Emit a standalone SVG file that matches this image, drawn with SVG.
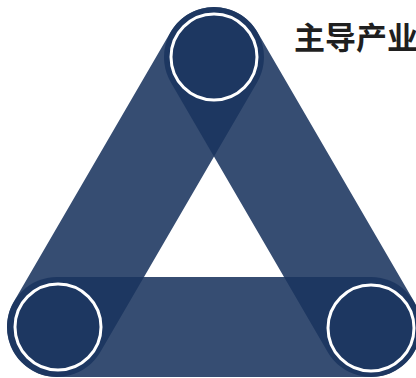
<svg xmlns="http://www.w3.org/2000/svg" width="416" height="378" viewBox="0 0 416 378">
  <style>
    .band { fill: none; stroke: #1a345e; stroke-opacity: 0.88; stroke-width: 100; stroke-linecap: round; }
    .ring { fill: none; stroke: #ffffff; stroke-width: 3; }
    .title { font-family: "Noto Sans CJK SC", "Noto Sans", sans-serif; font-weight: bold; font-size: 31px; fill: #1f1f1f; }
  </style>
  <rect width="416" height="378" fill="#ffffff"/>
  <g id="connectors">
    <line class="band" x1="214" y1="57" x2="57" y2="327"/>
    <line class="band" x1="214" y1="57" x2="371" y2="327"/>
    <line class="band" x1="57" y1="327" x2="371" y2="327"/>
  </g>
  <g id="node-top">
    <circle class="ring" cx="214" cy="57" r="43"/>
  </g>
  <g id="node-left">
    <circle class="ring" cx="58" cy="327" r="43"/>
  </g>
  <g id="node-right">
    <circle class="ring" cx="371" cy="328" r="43"/>
  </g>
  <g id="title">
    <text class="title" x="294" y="48.5">主导产业</text>
  </g>
</svg>
